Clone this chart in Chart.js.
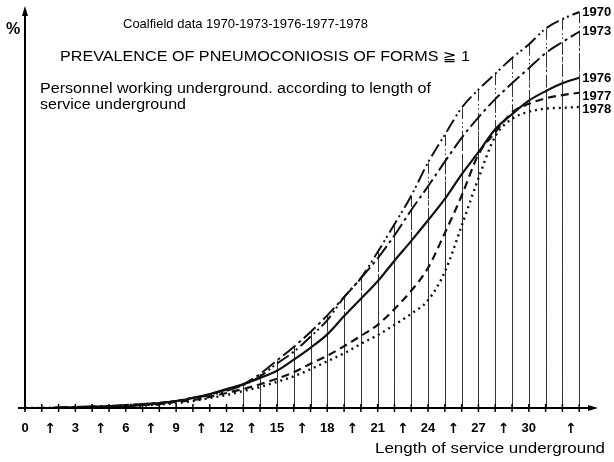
<!DOCTYPE html>
<html>
<head>
<meta charset="utf-8">
<script src="https://cdn.jsdelivr.net/npm/chart.js@4.4.0/dist/chart.umd.min.js"></script>
<style>
	body { margin: 0; background: #fff; }
	canvas { display: block; }
</style>
</head>
<body>
<canvas id="pneumoChart" width="614" height="462"></canvas>
<script>
// years of service underground
const years = [0, 1, 2, 3, 4, 5, 6, 7, 8, 9, 10, 11, 12, 13, 14, 15, 16, 17, 18, 19, 20, 21, 22, 23, 24, 25, 26, 27, 28, 29, 30, 31, 32, 33];

// prevalence (arbitrary % scale)
const prev1970 = [0, 0, 0.06, 0.13, 0.19, 0.25, 0.38, 0.5, 0.63, 0.88, 1.26, 1.64, 2.15, 2.9, 4.0, 5.6, 7.1, 9.0, 11.1, 14.0, 16.4, 19.7, 23.2, 26.8, 31.0, 34.5, 37.9, 40.2, 42.2, 44.2, 45.9, 47.9, 49.1, 50.0];
const prev1973 = [0, 0, 0.06, 0.13, 0.19, 0.25, 0.38, 0.5, 0.63, 0.9, 1.3, 1.7, 2.3, 3.0, 4.3, 6.0, 7.7, 9.6, 11.7, 14.0, 16.4, 18.9, 21.8, 25.0, 28.0, 31.1, 34.1, 36.7, 39.0, 41.0, 42.9, 44.8, 46.2, 47.5];
const prev1976 = [0, 0, 0, 0.06, 0.13, 0.19, 0.25, 0.38, 0.63, 0.88, 1.26, 1.77, 2.4, 3.0, 3.8, 4.7, 6.1, 7.6, 9.3, 11.6, 13.8, 16.0, 18.6, 21.1, 23.7, 26.4, 29.5, 32.3, 35.2, 37.1, 38.8, 40.0, 41.0, 41.7];
const prev1977 = [0, 0, 0, 0.06, 0.13, 0.19, 0.25, 0.38, 0.5, 0.76, 1.0, 1.4, 1.9, 2.4, 3.0, 3.7, 4.5, 5.6, 6.6, 7.8, 9.1, 10.5, 12.5, 14.8, 17.7, 22.1, 26.8, 32.0, 34.8, 37.3, 38.4, 39.1, 39.5, 39.8];
const prev1978 = [0, 0, 0, 0.06, 0.1, 0.15, 0.2, 0.3, 0.45, 0.63, 0.88, 1.26, 1.64, 2.15, 2.65, 3.3, 4.0, 4.9, 5.9, 6.9, 8.1, 9.2, 10.5, 11.9, 13.6, 17.2, 23.0, 29.0, 34.3, 36.5, 37.4, 37.8, 37.9, 38.0];

const seriesNames = ['1970', '1973', '1976', '1977', '1978'];
const seriesValues = [prev1970, prev1973, prev1976, prev1977, prev1978];

// x axis labels
const tickValues = [0, 1.5, 3, 4.5, 6, 7.5, 9, 10.5, 12, 13.5, 15, 16.5, 18, 19.5, 21, 22.5, 24, 25.5, 27, 28.5, 30, 32.5];
const tickLabels = ['0', '↑', '3', '↑', '6', '↑', '9', '↑', '12', '↑', '15', '↑', '18', '↑', '21', '↑', '24', '↑', '27', '↑', '30', '↑'];

const FONT = "'Liberation Sans', Arial, 'DejaVu Sans', sans-serif";
const dashes = [[14, 4, 2, 3, 2, 4], [16, 4, 3, 4], [], [8, 5], [2, 4]];
const widths = [2, 2, 2.2, 2.2, 2.4];
const dropFrom = 13;

const datasets = seriesNames.map((name, k) => ({
	label: name,
	data: years.map((x, i) => ({ x: x, y: seriesValues[k][i] })),
	borderColor: '#111',
	borderWidth: widths[k],
	borderDash: dashes[k],
	pointRadius: 0,
	fill: false,
	cubicInterpolationMode: 'monotone',
}));

// draw text stretched to a given width (the scan uses wide type)
function fitText(ctx, text, x, y, w) {
	const m = ctx.measureText(text).width;
	ctx.save();
	ctx.translate(x, y);
	ctx.scale(w / m, 1);
	ctx.fillText(text, 0, 0);
	ctx.restore();
}

const decor = {
	id: 'decor',
	beforeDatasetsDraw(chart) {
		const ctx = chart.ctx;
		const xs = chart.scales.x, ys = chart.scales.y;
		const base = ys.getPixelForValue(0);
		ctx.save();
		ctx.strokeStyle = '#333';
		ctx.lineWidth = 1;
		// vertical drop lines from the curves
		chart.data.datasets.forEach((ds, k) => {
			ctx.setLineDash(dashes[k].length ? dashes[k].map(d => d * 0.8) : []);
			ds.data.forEach(p => {
				if (p.x < dropFrom) return;
				const px = Math.round(xs.getPixelForValue(p.x)) + 0.5;
				ctx.beginPath();
				ctx.moveTo(px, ys.getPixelForValue(p.y));
				ctx.lineTo(px, base);
				ctx.stroke();
			});
		});
		ctx.restore();
	},
	afterDatasetsDraw(chart) {
		const ctx = chart.ctx;
		const xs = chart.scales.x, ys = chart.scales.y;
		const area = chart.chartArea;
		const base = ys.getPixelForValue(0);
		const x0 = xs.getPixelForValue(0);
		ctx.save();
		ctx.setLineDash([]);
		ctx.strokeStyle = '#000';
		ctx.fillStyle = '#000';
		// axes
		ctx.lineWidth = 2;
		ctx.beginPath();
		ctx.moveTo(18, base);
		ctx.lineTo(area.right - 4, base);
		ctx.moveTo(x0, base + 2);
		ctx.lineTo(x0, area.top + 4);
		ctx.stroke();
		// arrow heads
		ctx.beginPath();
		ctx.moveTo(area.right + 2, base);
		ctx.lineTo(area.right - 8, base - 3);
		ctx.lineTo(area.right - 8, base + 3);
		ctx.closePath();
		ctx.fill();
		ctx.beginPath();
		ctx.moveTo(x0, area.top - 2);
		ctx.lineTo(x0 - 3, area.top + 8);
		ctx.lineTo(x0 + 3, area.top + 8);
		ctx.closePath();
		ctx.fill();
		// small ticks on x axis
		ctx.lineWidth = 1.5;
		years.forEach(v => {
			const px = xs.getPixelForValue(v);
			ctx.beginPath();
			ctx.moveTo(px, base - 4);
			ctx.lineTo(px, base + 4);
			ctx.stroke();
		});
		// texts
		ctx.textBaseline = 'middle';
		ctx.textAlign = 'left';
		ctx.font = 'bold 16px ' + FONT;
		ctx.fillText('%', 6, 30);
		ctx.font = '13px ' + FONT;
		ctx.fillText('Coalfield data 1970-1973-1976-1977-1978', 123, 24);
		ctx.font = '14px ' + FONT;
		fitText(ctx, 'PREVALENCE OF PNEUMOCONIOSIS OF FORMS ≧ 1', 60, 57, 410);
		fitText(ctx, 'Personnel working underground. according to length of', 40, 89, 391);
		fitText(ctx, 'service underground', 40, 105, 146);
		fitText(ctx, 'Length of service underground', 375, 449, 230);
		// year labels at curve ends
		ctx.font = 'bold 13px ' + FONT;
		const offsets = [0, 0, 1, 4, 2];
		chart.data.datasets.forEach((ds, k) => {
			const last = ds.data[ds.data.length - 1];
			ctx.fillText(ds.label, xs.getPixelForValue(last.x) + 3, ys.getPixelForValue(last.y) + offsets[k]);
		});
		ctx.restore();
	}
};

const ctx = document.getElementById('pneumoChart').getContext('2d');
new Chart(ctx, {
	type: 'line',
	data: { datasets: datasets },
	options: {
		responsive: false,
		animation: false,
		layout: {
			padding: { left: 25, right: 18, top: 8, bottom: 0 }
		},
		plugins: {
			legend: { display: false },
			tooltip: { enabled: false }
		},
		scales: {
			x: {
				type: 'linear',
				min: 0,
				max: 34,
				afterBuildTicks: scale => {
					scale.ticks = tickValues.map(v => ({ value: v }));
				},
				afterFit: scale => {
					scale.height = 54;
				},
				ticks: {
					autoSkip: false,
					maxRotation: 0,
					padding: 5,
					color: '#000',
					font: c => (c.index % 2 === 1)
						? { family: "'DejaVu Sans', sans-serif", size: 14, weight: 'bold' }
						: { family: FONT, size: 13, weight: 'bold' },
					callback: (value, index) => tickLabels[index]
				},
				grid: { display: false },
				border: { display: false }
			},
			y: {
				display: false,
				min: 0,
				max: 50.5
			}
		}
	},
	plugins: [decor]
});
</script>
</body>
</html>
